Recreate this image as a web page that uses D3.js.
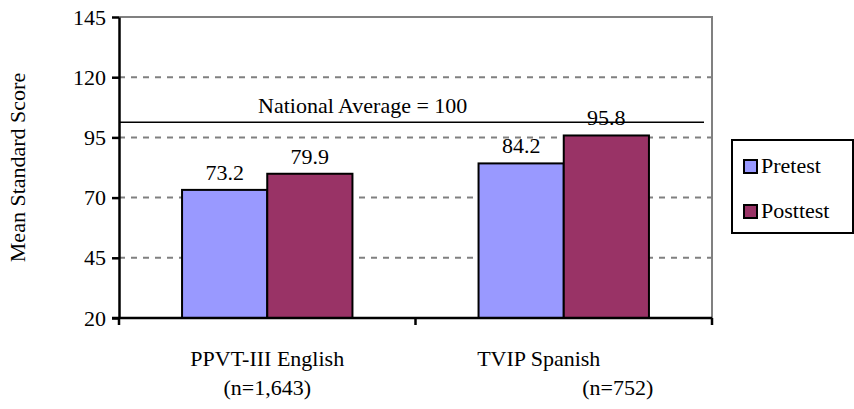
<!DOCTYPE html>
<html>
<head>
<meta charset="utf-8">
<script src="https://cdn.jsdelivr.net/npm/d3@7"></script>
</head>
<body style="margin:0">
<script>
// chart data
const categories = ['PPVT-III English', 'TVIP Spanish'];
const sampleSizes = ['(n=1,643)', '(n=752)'];
const seriesNames = ['Pretest', 'Posttest'];
const pretest = [73.2, 84.2];
const posttest = [79.9, 95.8];
const yTicks = [20, 45, 70, 95, 120, 145];
const nationalAverage = 100;

const width = 854, height = 409;
const margin = {top: 17, right: 142, bottom: 91, left: 119};
const colors = ['#9999FF', '#993366'];

const svg = d3.select('body').append('svg')
    .attr('width', width)
    .attr('height', height)
    .attr('font-family', 'Liberation Serif');

const x = d3.scaleBand()
    .domain(categories)
    .range([margin.left, width - margin.right]);

const inner = d3.scaleBand()
    .domain(seriesNames)
    .range([0, x.bandwidth()])
    .paddingOuter(0.74);

const y = d3.scaleLinear()
    .domain([20, 145])
    .range([height - margin.bottom, margin.top]);

// text styling: serif at 22px
function label(sel) {
    return sel.style('font-size', '22px')
        .attr('font-family', 'Liberation Serif');
}

// gridlines
svg.append('g')
    .selectAll('line')
    .data(yTicks.slice(1, -1))
    .join('line')
    .attr('x1', margin.left)
    .attr('x2', width - margin.right)
    .attr('y1', d => y(d))
    .attr('y2', d => y(d))
    .attr('stroke', '#808080')
    .attr('stroke-width', 2)
    .attr('stroke-dasharray', '6,6');

// top and right frame
svg.append('path')
    .attr('d', `M${margin.left},${y(145)}H${width - margin.right}V${y(20)}`)
    .attr('fill', 'none')
    .attr('stroke', '#808080')
    .attr('stroke-width', 2);

// bars
const rows = categories.map((c, i) => ({cat: c, values: [pretest[i], posttest[i]]}));
const groups = svg.append('g')
    .selectAll('g')
    .data(rows)
    .join('g')
    .attr('transform', d => `translate(${x(d.cat)},0)`);

groups.selectAll('rect')
    .data(d => d.values.map((v, j) => ({name: seriesNames[j], value: v, j: j})))
    .join('rect')
    .attr('x', d => inner(d.name))
    .attr('y', d => y(d.value))
    .attr('width', inner.bandwidth())
    .attr('height', d => y(20) - y(d.value))
    .attr('fill', d => colors[d.j])
    .attr('stroke', '#000')
    .attr('stroke-width', 2);

groups.selectAll('text')
    .data(d => d.values.map((v, j) => ({name: seriesNames[j], value: v})))
    .join('text')
    .attr('x', d => inner(d.name) + inner.bandwidth() / 2)
    .attr('y', d => y(d.value) - 10)
    .attr('text-anchor', 'middle')
    .call(label)
    .text(d => d.value.toFixed(1));

// national average line
svg.append('line')
    .attr('x1', margin.left)
    .attr('x2', width - margin.right - 8)
    .attr('y1', y(nationalAverage) - 3)
    .attr('y2', y(nationalAverage) - 3)
    .attr('stroke', '#000')
    .attr('stroke-width', 1.5);

svg.append('text')
    .attr('x', 258)
    .attr('y', y(nationalAverage) - 12)
    .call(label)
    .text('National Average = ' + nationalAverage);

// y axis
const yAxis = svg.append('g')
    .attr('transform', `translate(${margin.left},0)`)
    .call(d3.axisLeft(y).tickValues(yTicks).tickSize(7).tickPadding(6).tickSizeOuter(0))
    .attr('font-family', 'Liberation Serif');
yAxis.select('.domain').attr('stroke-width', 2.5);
yAxis.selectAll('.tick line').attr('stroke-width', 2.5);
yAxis.selectAll('.tick text').call(label);

// x axis
const xAxisG = svg.append('g')
    .attr('transform', `translate(0,${y(20)})`);
xAxisG.append('line')
    .attr('x1', margin.left - 7)
    .attr('x2', width - margin.right)
    .attr('stroke', '#000')
    .attr('stroke-width', 2.5);
xAxisG.selectAll('.xtick')
    .data([...categories.map(c => x(c)), width - margin.right])
    .join('line')
    .attr('x1', d => d)
    .attr('x2', d => d)
    .attr('y1', 0)
    .attr('y2', 7)
    .attr('stroke', '#000')
    .attr('stroke-width', 2.5);

// category labels (second label wrapped off-centre as in the source)
const labelShift = [[0, 0], [-25, 54]];
categories.forEach((c, i) => {
    const cx = x(c) + x.bandwidth() / 2;
    svg.append('text')
        .attr('x', cx + labelShift[i][0])
        .attr('y', y(20) + 48)
        .attr('text-anchor', 'middle')
        .call(label)
        .text(c);
    svg.append('text')
        .attr('x', cx + labelShift[i][1])
        .attr('y', y(20) + 77)
        .attr('text-anchor', 'middle')
        .call(label)
        .text(sampleSizes[i]);
});

// y axis title
svg.append('text')
    .attr('transform', `translate(25,${(y(20) + y(145)) / 2}) rotate(-90)`)
    .attr('text-anchor', 'middle')
    .call(label)
    .text('Mean Standard Score');

// legend
const legend = svg.append('g').attr('transform', 'translate(732,140)');
legend.append('rect')
    .attr('width', 121)
    .attr('height', 93)
    .attr('fill', '#fff')
    .attr('stroke', '#000')
    .attr('stroke-width', 2);
const items = legend.selectAll('g')
    .data(seriesNames)
    .join('g')
    .attr('transform', (d, i) => `translate(12,${20 + i * 45})`);
items.append('rect')
    .attr('width', 13)
    .attr('height', 13)
    .attr('fill', (d, i) => colors[i])
    .attr('stroke', '#000')
    .attr('stroke-width', 2);
items.append('text')
    .attr('x', 17)
    .attr('y', 13)
    .call(label)
    .text(d => d);
</script>
</body>
</html>
